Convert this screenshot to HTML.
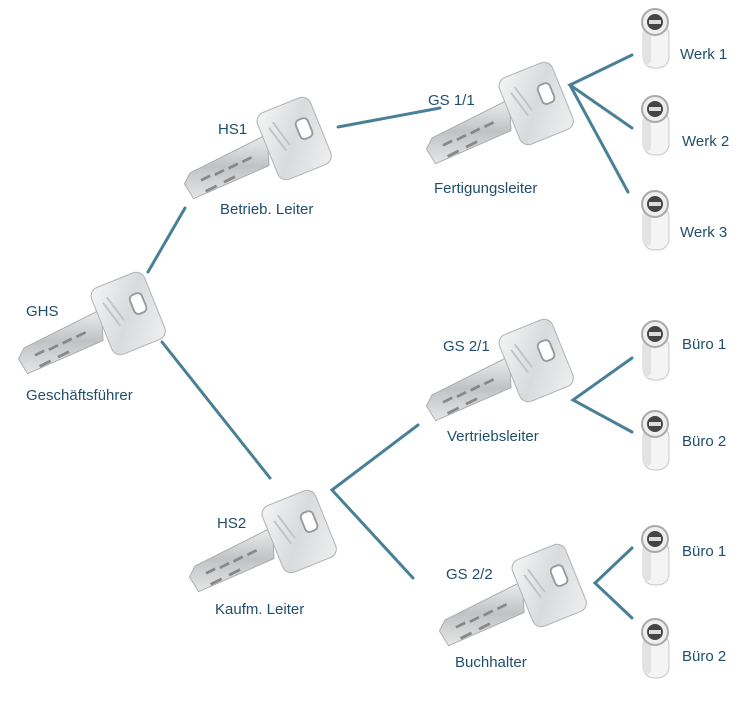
<!DOCTYPE html>
<html><head><meta charset="utf-8"><style>
html,body{margin:0;padding:0;background:#fff}
svg text{font-family:"Liberation Sans",sans-serif;fill:#1f4e6b;font-size:15px}
</style></head><body>
<svg width="744" height="700" viewBox="0 0 744 700" xmlns="http://www.w3.org/2000/svg">
<defs>
<linearGradient id="hg" x1="0" y1="0" x2="1" y2="1">
<stop offset="0" stop-color="#f6f6f6"/><stop offset="0.5" stop-color="#d8dadc"/><stop offset="1" stop-color="#f0f0f0"/></linearGradient>
<linearGradient id="bg" x1="0" y1="0" x2="0" y2="1">
<stop offset="0" stop-color="#eeeeee"/><stop offset="0.5" stop-color="#c0c2c4"/><stop offset="1" stop-color="#e6e6e6"/></linearGradient>
<g id="key" transform="scale(0.92)">
<polygon points="-28,-4 -112,38 -118,50 -108,66 -26,30" fill="url(#bg)" stroke="#a8aaac" stroke-width="1"/>
<path d="M-100,46 l10,-5 M-85,40 l10,-5 M-70,33 l10,-5 M-55,26 l10,-5 M-95,58 l12,-6 M-75,48 l12,-6" stroke="#888" stroke-width="3"/>
<g transform="rotate(-22)">
<rect x="-30" y="-38" width="62" height="78" rx="10" fill="url(#hg)" stroke="#b4b6b8" stroke-width="1.2"/>
<rect x="8" y="-16" width="14" height="22" rx="5" fill="#fff" stroke="#999" stroke-width="2"/>
<path d="M-20,-20 l8,30 M-14,-24 l8,30" stroke="#c0c2c4" stroke-width="2"/>
</g>
</g>
<g id="cyl">
<rect x="-12" y="-4" width="26" height="44" rx="11" fill="#f4f4f4" stroke="#c8c8c8"/>
<rect x="-12" y="-4" width="8" height="40" rx="4" fill="#e2e2e2"/>
<circle cx="0" cy="-6" r="13" fill="#eee" stroke="#aaa" stroke-width="2"/>
<circle cx="0" cy="-6" r="8" fill="#444"/>
<rect x="-6" y="-8" width="12" height="4" fill="#ddd"/>
</g>
</defs>
<g stroke="#4a8096" stroke-width="3" fill="none" stroke-linecap="round">
<line x1="148" y1="272" x2="185" y2="208"/>
<line x1="162" y1="342" x2="270" y2="478"/>
<line x1="338" y1="127" x2="440" y2="108"/>
<polyline points="632,55 570,85 632,128"/>
<line x1="570" y1="85" x2="628" y2="192"/>
<polyline points="418,425 332,490 413,578"/>
<polyline points="632,358 573,400 632,432"/>
<polyline points="632,548 595,583 632,618"/>
</g>
<use href="#key" x="127" y="313"/>
<use href="#key" x="293" y="138"/>
<use href="#key" x="535" y="103"/>
<use href="#key" x="535" y="360"/>
<use href="#key" x="298" y="531"/>
<use href="#key" x="548" y="585"/>
<use href="#cyl" x="655" y="28"/>
<use href="#cyl" x="655" y="115"/>
<use href="#cyl" x="655" y="210"/>
<use href="#cyl" x="655" y="340"/>
<use href="#cyl" x="655" y="430"/>
<use href="#cyl" x="655" y="545"/>
<use href="#cyl" x="655" y="638"/>
<text x="26" y="316">GHS</text>
<text x="26" y="400">Geschäftsführer</text>
<text x="218" y="134">HS1</text>
<text x="220" y="214">Betrieb. Leiter</text>
<text x="428" y="105">GS 1/1</text>
<text x="434" y="193">Fertigungsleiter</text>
<text x="443" y="351">GS 2/1</text>
<text x="447" y="441">Vertriebsleiter</text>
<text x="217" y="528">HS2</text>
<text x="215" y="614">Kaufm. Leiter</text>
<text x="446" y="579">GS 2/2</text>
<text x="455" y="667">Buchhalter</text>
<text x="680" y="59">Werk 1</text>
<text x="682" y="146">Werk 2</text>
<text x="680" y="237">Werk 3</text>
<text x="682" y="349">Büro 1</text>
<text x="682" y="446">Büro 2</text>
<text x="682" y="556">Büro 1</text>
<text x="682" y="661">Büro 2</text>
</svg>
</body></html>
